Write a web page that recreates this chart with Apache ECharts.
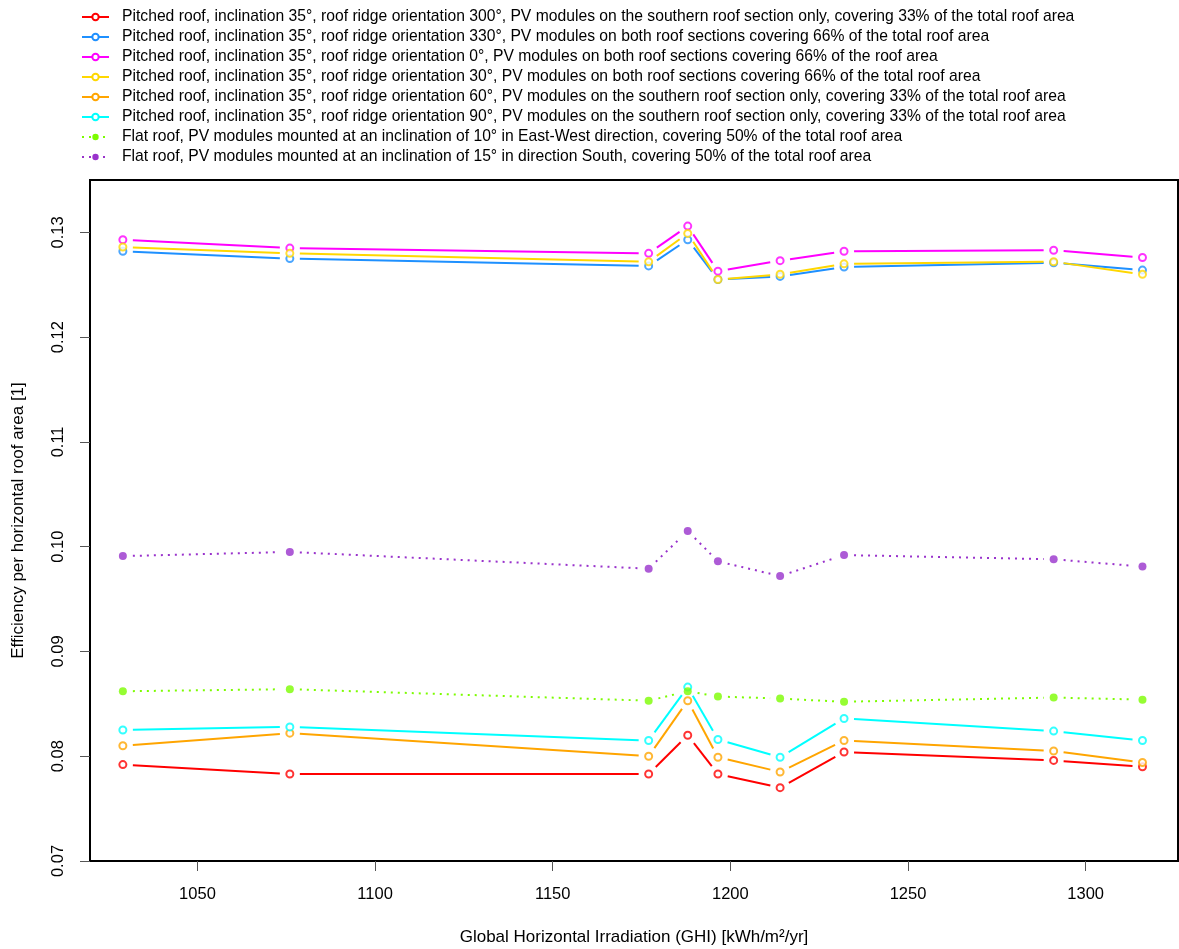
<!DOCTYPE html>
<html>
<head>
<meta charset="utf-8">
<script src="https://cdn.jsdelivr.net/npm/echarts@6/dist/echarts.min.js"></script>
<style>html,body{margin:0;padding:0;background:#fff}#c{width:1179px;height:949px}</style>
</head>
<body>
<div id="c"></div>
<script>
const ghi = [1029, 1076, 1177, 1188, 1196.5, 1214, 1232, 1291, 1316];
const xTicks = [1050, 1100, 1150, 1200, 1250, 1300];
const yTicks = [0.07, 0.08, 0.09, 0.10, 0.11, 0.12, 0.13];

const names = [
  "Pitched roof, inclination 35°, roof ridge orientation 300°, PV modules on the southern roof section only, covering 33% of the total roof area",
  "Pitched roof, inclination 35°, roof ridge orientation 330°, PV modules on both roof sections covering 66% of the total roof area",
  "Pitched roof, inclination 35°, roof ridge orientation 0°, PV modules on both roof sections covering 66% of the roof area",
  "Pitched roof, inclination 35°, roof ridge orientation 30°, PV modules on both roof sections covering 66% of the total roof area",
  "Pitched roof, inclination 35°, roof ridge orientation 60°, PV modules on the southern roof section only, covering 33% of the total roof area",
  "Pitched roof, inclination 35°, roof ridge orientation 90°, PV modules on the southern roof section only, covering 33% of the total roof area",
  "Flat roof, PV modules mounted at an inclination of 10° in East-West direction, covering 50% of the total roof area",
  "Flat roof, PV modules mounted at an inclination of 15° in direction South, covering 50% of the total roof area"
];

const ridge300 = [0.0792, 0.0783, 0.0783, 0.0820, 0.0783, 0.0770, 0.0804, 0.0796, 0.0790];
const ridge330 = [0.1282, 0.1275, 0.1268, 0.1293, 0.1255, 0.1258, 0.1267, 0.1271, 0.1264];
const ridge0   = [0.1293, 0.1285, 0.1280, 0.1306, 0.1263, 0.1273, 0.1282, 0.1283, 0.1276];
const ridge30  = [0.1286, 0.1280, 0.1272, 0.1299, 0.1255, 0.1260, 0.1270, 0.1272, 0.1260];
const ridge60  = [0.0810, 0.0822, 0.0800, 0.0853, 0.0799, 0.0785, 0.0815, 0.0805, 0.0794];
const ridge90  = [0.0825, 0.0828, 0.0815, 0.0866, 0.0816, 0.0799, 0.0836, 0.0824, 0.0815];
const flatEW   = [0.0862, 0.0864, 0.0853, 0.0862, 0.0857, 0.0855, 0.0852, 0.0856, 0.0854];
const flatS    = [0.0991, 0.0995, 0.0979, 0.1015, 0.0986, 0.0972, 0.0992, 0.0988, 0.0981];

const values = [ridge300, ridge330, ridge0, ridge30, ridge60, ridge90, flatEW, flatS];
const colors = ['#FF0000', '#1E90FF', '#FF00FF', '#FFD700', '#FFA500', '#00FFFF', '#7CFC00', '#9932CC'];
const dotted = [false, false, false, false, false, false, true, true];

const font = 'Liberation Sans, Arial, sans-serif';
const GAP = 10;
const series = [];
values.forEach((vals, i) => {
  // legend carrier (no data drawn)
  series.push({
    name: names[i], type: 'line', data: [], z: 2,
    symbol: dotted[i] ? 'circle' : 'emptyCircle', symbolSize: 7,
    itemStyle: { color: colors[i], borderWidth: 1.5 },
    lineStyle: { color: colors[i], width: 2, type: dotted[i] ? [2, 5] : 'solid' },
    animation: false
  });
  // segments with gaps near points (R type="b")
  const segs = [];
  for (let k = 0; k < vals.length - 1; k++) segs.push([ghi[k], vals[k], ghi[k + 1], vals[k + 1]]);
  series.push({
    name: '_seg' + i, type: 'custom', data: segs, z: 2, silent: true, animation: false,
    encode: { x: [0, 2], y: [1, 3] },
    renderItem: (params, api) => {
      const p1 = api.coord([api.value(0), api.value(1)]);
      const p2 = api.coord([api.value(2), api.value(3)]);
      const dx = p2[0] - p1[0], dy = p2[1] - p1[1];
      const len = Math.sqrt(dx * dx + dy * dy);
      if (len <= 2 * GAP + 1) return null;
      const ux = dx / len, uy = dy / len;
      return {
        type: 'line',
        shape: { x1: p1[0] + ux * GAP, y1: p1[1] + uy * GAP, x2: p2[0] - ux * GAP, y2: p2[1] - uy * GAP },
        style: { stroke: colors[i], lineWidth: 2, lineDash: dotted[i] ? [2, 5] : null, fill: null }
      };
    }
  });
});
values.forEach((vals, i) => {
  series.push({
    name: '_pt' + i, type: 'scatter', z: 4, silent: true,
    data: vals.map((v, k) => [ghi[k], v]),
    symbol: dotted[i] ? 'circle' : 'emptyCircle', symbolSize: dotted[i] ? 8 : 7,
    itemStyle: { color: colors[i], borderWidth: 1.6 },
    animation: false
  });
});

const chart = echarts.init(document.getElementById('c'), null, { renderer: 'canvas' });
chart.setOption({
  backgroundColor: '#ffffff',
  animation: false,
  textStyle: { fontFamily: font },
  legend: {
    data: names, orient: 'vertical', left: 76, top: 2,
    itemWidth: 27, itemHeight: 8, itemGap: 0,
    textStyle: { fontFamily: font, fontSize: 15.7, lineHeight: 20, color: '#000', padding: [0, 0, 0, 8] },
    selectedMode: false
  },
  grid: { left: 90, right: 1, top: 180, bottom: 88, show: true, borderColor: '#000', borderWidth: 2,
    backgroundColor: 'transparent', outerBoundsMode: 'none', containLabel: false },
  xAxis: {
    type: 'value', min: 1019.75, max: 1326,
    name: 'Global Horizontal Irradiation (GHI) [kWh/m²/yr]', nameLocation: 'middle', nameGap: 68,
    nameTextStyle: { fontFamily: font, fontSize: 17, color: '#000' },
    axisLine: { show: false },
    axisTick: { show: true, length: 10, customValues: xTicks, lineStyle: { color: '#555', width: 1 } },
    axisLabel: { customValues: xTicks, fontFamily: font, fontSize: 16.5, color: '#000', margin: 25,
      formatter: v => String(v) },
    splitLine: { show: false }
  },
  yAxis: {
    type: 'value', min: 0.07, max: 0.135,
    name: 'Efficiency per horizontal roof area [1]', nameLocation: 'middle', nameGap: 63, nameRotate: 90,
    nameTextStyle: { fontFamily: font, fontSize: 17, color: '#000' },
    axisLine: { show: false },
    axisTick: { show: true, length: 10, customValues: yTicks, lineStyle: { color: '#555', width: 1 } },
    axisLabel: { customValues: yTicks, rotate: 90, fontFamily: font, fontSize: 16.5, color: '#000', margin: 23,
      formatter: v => v.toFixed(2) },
    splitLine: { show: false }
  },
  series: series
});
</script>
</body>
</html>
